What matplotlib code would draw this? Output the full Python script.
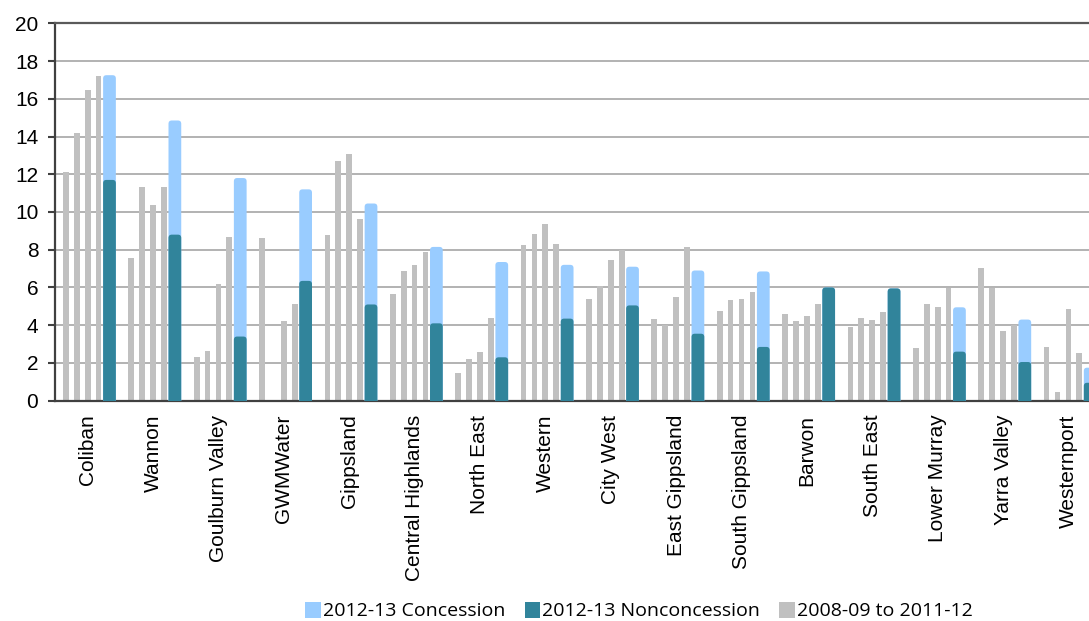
import numpy as np
import matplotlib.pyplot as plt
from matplotlib.patches import FancyBboxPatch, Patch

# water businesses, ordered as in the source chart
regions = ['Coliban', 'Wannon', 'Goulburn Valley', 'GWMWater', 'Gippsland',
           'Central Highlands', 'North East', 'Western', 'City West',
           'East Gippsland', 'South Gippsland', 'Barwon', 'South East',
           'Lower Murray', 'Yarra Valley', 'Westernport']

# 2008-09 to 2011-12 (grey bars)
y2008_09 = [12.1, 7.55, 2.3, 8.6, 8.8, 5.65, 1.45, 8.25, 5.4, 4.35, 4.75, 4.6, 3.9, 2.8, 7.05, 2.85]
y2009_10 = [14.2, 11.3, 2.65, 0.0, 12.7, 6.85, 2.2, 8.85, 6.1, 4.0, 5.35, 4.2, 4.4, 5.1, 5.95, 0.45]
y2010_11 = [16.45, 10.35, 6.2, 4.25, 13.05, 7.2, 2.6, 9.35, 7.45, 5.5, 5.4, 4.5, 4.3, 4.95, 3.7, 4.85]
y2011_12 = [17.2, 11.3, 8.7, 5.1, 9.65, 7.9, 4.4, 8.3, 8.0, 8.15, 5.75, 5.15, 4.7, 5.95, 4.0, 2.55]

# 2012-13 split
nonconcession = [11.7, 8.8, 3.4, 6.35, 5.1, 4.1, 2.3, 4.35, 5.05, 3.55, 2.85, 6.0, 5.95, 2.6, 2.05, 0.95]
concession = [5.55, 6.05, 8.4, 4.85, 5.35, 4.05, 5.05, 2.85, 2.05, 3.35, 4.0, 0.0, 0.0, 2.35, 2.25, 0.8]

yticks = list(range(0, 21, 2))

GREY = '#C0C0C0'
LIGHT = '#99CCFF'
TEAL = '#31849B'
AXIS = '#404040'

plt.rcParams['font.family'] = ['Liberation Sans', 'DejaVu Sans']

W, H = 1089, 621
fig = plt.figure(figsize=(W / 100, H / 100), dpi=100)
ax = fig.add_axes([55 / W, 1 - 400.7 / H, 1 - 55 / W, (400.7 - 23.3) / H])

x = np.arange(len(regions)) + 0.5
slot = 1 / 6
ax.set_xlim(0, 15.815)
ax.set_ylim(0, 20)

history = [y2008_09, y2009_10, y2010_11, y2011_12]
for k, vals in enumerate(history):
    ax.bar(x + (k - 2) * slot, vals, width=0.088, color=GREY, zorder=2)

# aspect of one data unit in y vs x, so the rounded corners look round
p0 = ax.transData.transform((0, 0))
p1 = ax.transData.transform((1, 1))
aspect = (p1[0] - p0[0]) / (p1[1] - p0[1])


def rounded_bar(xc, top, width, color):
    if top <= 0:
        return
    patch = FancyBboxPatch((xc - width / 2, -0.5), width, top + 0.5,
                           boxstyle='round,pad=0,rounding_size=0.05',
                           mutation_aspect=aspect, fc=color, ec='none', zorder=3)
    ax.add_patch(patch)


total = np.array(nonconcession) + np.array(concession)
for xc, t, nc in zip(x + 2 * slot, total, nonconcession):
    rounded_bar(xc, t, 0.195, LIGHT)
    rounded_bar(xc, nc, 0.195, TEAL)

ax.set_yticks(yticks)
ax.set_xticks(x, regions, rotation=90)
ax.grid(axis='y', color='#A6A6A6', lw=1.2, zorder=0)
ax.set_axisbelow(True)

for side in ['left', 'bottom']:
    ax.spines[side].set_color(AXIS)
    ax.spines[side].set_linewidth(1.6)
ax.spines['top'].set_color('#5A5A5A')
ax.spines['top'].set_linewidth(1.6)
ax.spines['right'].set_visible(False)

ax.tick_params(axis='y', length=5, width=1.5, color=AXIS, pad=7, labelsize=15)
ax.tick_params(axis='x', length=0, pad=10, labelsize=15)

handles = [Patch(fc=LIGHT, ec='none'), Patch(fc=TEAL, ec='none'), Patch(fc=GREY, ec='none')]
labels = ['2012-13 Concession', '2012-13 Nonconcession', '2008-09 to 2011-12']
fig.legend(handles, labels, loc='center', bbox_to_anchor=(639 / W, 10 / H), ncol=3,
           frameon=False, prop={'family': 'Open Sans', 'size': 14},
           handlelength=0.8, handleheight=0.9, handletextpad=0.1,
           columnspacing=1.0, borderaxespad=0, borderpad=0)

fig.savefig('out.png', dpi=100)
